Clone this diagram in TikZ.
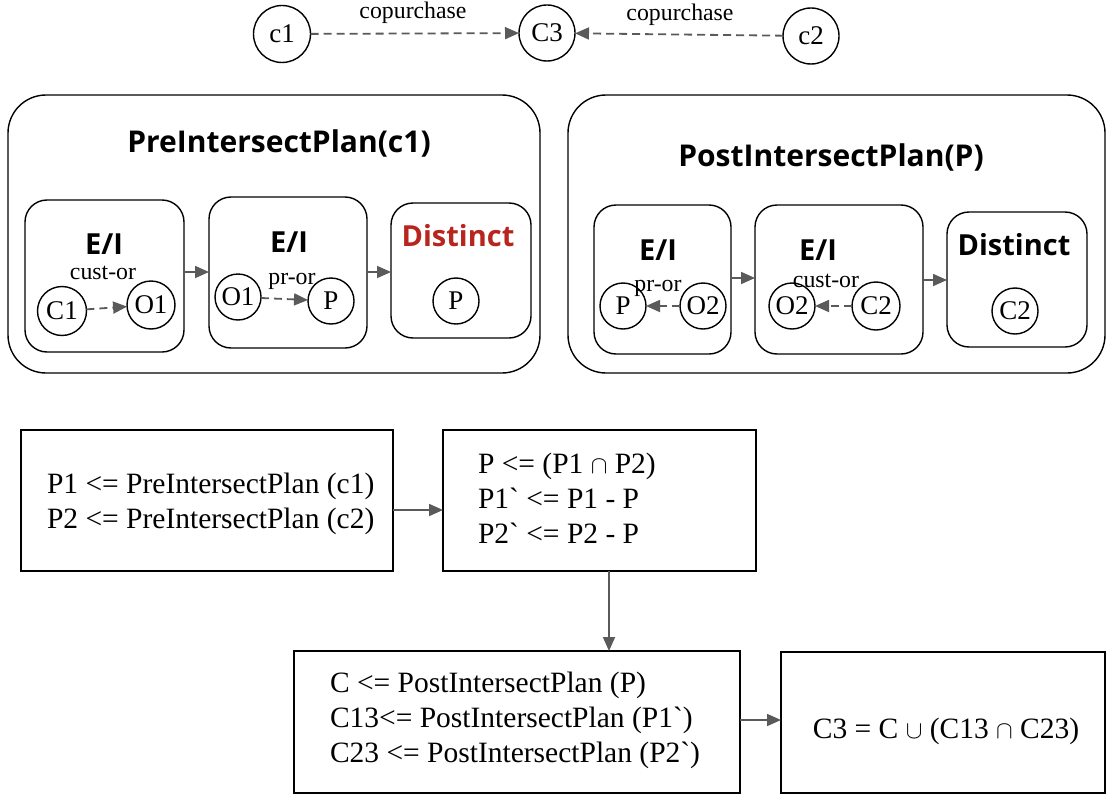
\documentclass[tikz,border=0pt]{standalone}
\usepackage{fontspec}
\setmainfont{Liberation Serif}
\newfontfamily\bodyfont{Liberation Serif}
\newfontfamily\titlefont{Open Sans}
\usetikzlibrary{arrows.meta,calc}
\definecolor{edgegray}{HTML}{5A5A5A}
\definecolor{distred}{HTML}{B8251E}
\begin{document}
\begin{tikzpicture}[x=1pt,y=-1pt,
  every node/.style={inner sep=0pt, outer sep=0pt},
  vert/.style={draw, circle, line width=1.4pt, minimum size=#1, font=\bodyfont\fontsize{27}{30}\selectfont},
  vert/.default=50pt,
  plan/.style={draw, line width=1.4pt, rounded corners=38pt},
  op/.style={draw, line width=1.4pt, rounded corners=22pt},
  stepbox/.style={draw, line width=1.6pt},
  title/.style={font=\titlefont\bfseries\fontsize{30}{33}\selectfont},
  optitle/.style={font=\titlefont\bfseries\fontsize{29}{32}\selectfont},
  elabel/.style={font=\bodyfont\fontsize{23.8}{26}\selectfont},
  body/.style={font=\bodyfont\fontsize{29.5}{35}\selectfont, align=left},
  link/.style={draw=edgegray, line width=1.8pt, dash pattern=on 8pt off 5pt, -{Triangle[length=14pt,width=12pt]}},
  flow/.style={draw=edgegray, line width=1.8pt, -{Triangle[length=14pt,width=12pt]}}
]
\useasboundingbox (0,0) rectangle (1107,797);

% copurchase relation
\node[vert=57pt] (c1) at (282,34) {c1};
\node[vert=56pt] (C3) at (547,33) {C3};
\node[vert=56pt] (c2) at (811,36) {c2};
\node[elabel] (cp1) at (413,13) {copurchase};
\node[elabel] (cp2) at (680,15) {copurchase};
\draw[link] (c1) -- (C3);
\draw[link] (c2) -- (C3);

% PreIntersectPlan(c1)
\node[plan, minimum width=532pt, minimum height=278pt] (pre) at (274,234) {};
\node[title] (pretitle) at (279,143) {PreIntersectPlan(c1)};
\node[op, minimum width=159pt, minimum height=152pt] (pa) at (104.5,276) {};
\node[op, minimum width=158pt, minimum height=151pt] (pb) at (288,272.5) {};
\node[op, minimum width=140pt, minimum height=135pt] (pc) at (461,270.5) {};
\node[optitle] (pat) at (104,244) {E/I};
\node[elabel] (pal) at (103,273) {cust-or};
\node[vert=49pt] (pC1) at (62,311) {C1};
\node[vert=48pt] (pO1) at (151,305) {O1};
\draw[link] (pC1) -- (pO1);
\node[optitle] (pbt) at (289,242) {E/I};
\node[elabel] (pbl) at (292,281) {pr-or};
\node[vert=46pt] (pbO1) at (238,297) {O1};
\node[vert=46pt] (pbP) at (331,301) {P};
\draw[link] (pbO1) -- (pbP);
\node[optitle, text=distred] (pct) at (458,236) {Distinct};
\node[vert=46pt] (pcP) at (456,301) {P};
\draw[flow] (pa.east |- 0,272) -- (pb.west |- 0,272);
\draw[flow] (pb.east |- 0,272) -- (pc.west |- 0,272);

% PostIntersectPlan(P)
\node[plan, minimum width=537pt, minimum height=278pt] (post) at (836.5,234) {};
\node[title] (posttitle) at (831,157) {PostIntersectPlan(P)};
\node[op, minimum width=137pt, minimum height=149pt] (qa) at (662.5,279.5) {};
\node[op, minimum width=168pt, minimum height=149pt] (qb) at (839,279.5) {};
\node[op, minimum width=140pt, minimum height=135pt] (qc) at (1017,279.5) {};
\node[optitle] (qat) at (658,250) {E/I};
\node[elabel] (qal) at (658,288) {pr-or};
\node[vert=46pt] (qP) at (623,306) {P};
\node[vert=46pt] (qO2) at (703,306) {O2};
\draw[link] (qO2) -- (qP);
\node[optitle] (qbt) at (818,250) {E/I};
\node[elabel] (qbl) at (826,281) {cust-or};
\node[vert=46pt] (qbO2) at (792,306) {O2};
\node[vert=48pt] (qbC2) at (876,306) {C2};
\draw[link] (qbC2) -- (qbO2);
\node[optitle] (qct) at (1014,245) {Distinct};
\node[vert=46pt] (qcC2) at (1015,311) {C2};
\draw[flow] (qa.east |- 0,278) -- (qb.west |- 0,278);
\draw[flow] (qb.east |- 0,280) -- (qc.west |- 0,280);

% Set computation steps
\node[stepbox, minimum width=372pt, minimum height=141pt] (s1) at (207,500.5) {};
\node[body, anchor=west] (s1t) at (47,504) {P1 <= PreIntersectPlan (c1)\\P2 <= PreIntersectPlan (c2)};
\node[stepbox, minimum width=313pt, minimum height=141pt] (s2) at (599.5,500.5) {};
\node[body, anchor=north west] (s2t) at (478,453) {P <= (P1 $\cap$ P2)\\P1` <= P1 - P\\P2` <= P2 - P};
\node[stepbox, minimum width=446pt, minimum height=142pt] (s3) at (517,722) {};
\node[body, anchor=north west] (s3t) at (330,672) {C <= PostIntersectPlan (P)\\C13<= PostIntersectPlan (P1`)\\C23 <= PostIntersectPlan (P2`)};
\node[stepbox, minimum width=324pt, minimum height=141pt] (s4) at (943,722.5) {};
\node[body] (s4t) at (946,731) {C3 = C $\cup$ (C13 $\cap$ C23)};
\draw[flow] (s1.east |- 0,510) -- (s2.west |- 0,510);
\draw[flow] (s2.south -| 609,0) -- (s3.north -| 609,0);
\draw[flow] (s3.east |- 0,720) -- (s4.west |- 0,720);
\end{tikzpicture}
\end{document}
